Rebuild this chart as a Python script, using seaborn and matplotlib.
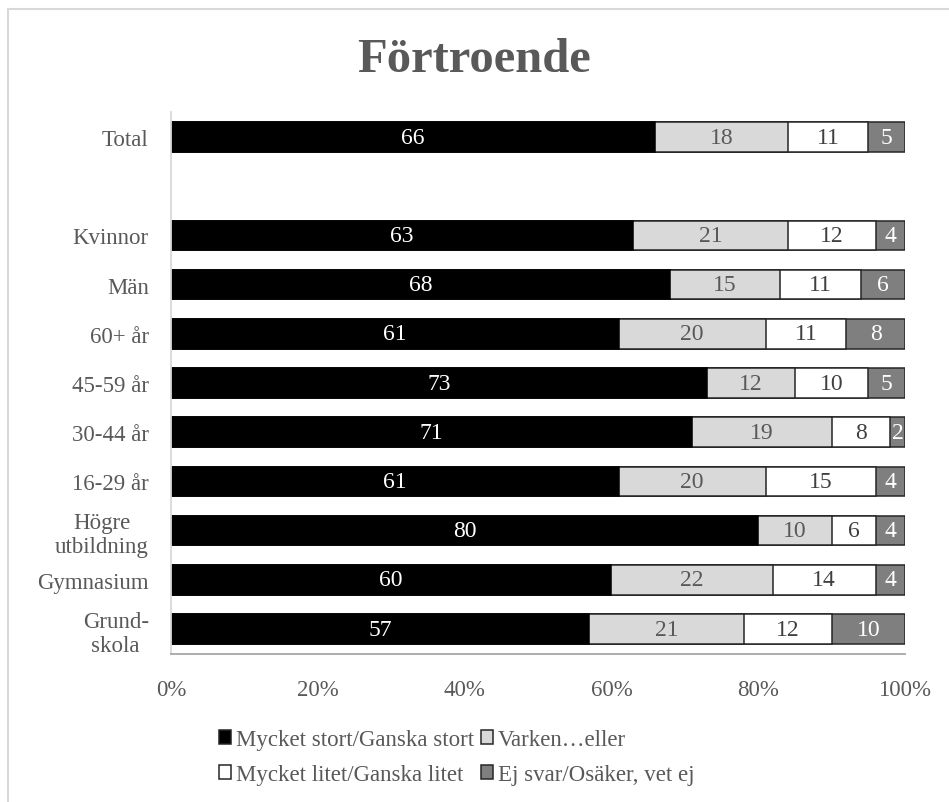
import matplotlib
matplotlib.use("Agg")
import matplotlib.pyplot as plt
from matplotlib.patches import Rectangle, Patch
import seaborn as sns
import pandas as pd
import numpy as np

sns.set_style("white")
plt.rcParams["font.family"] = ["Liberation Serif", "DejaVu Serif"]

# ---- data ----
categories = ["Total", "Kvinnor", "Män", "60+ år", "45-59 år", "30-44 år",
              "16-29 år", "Högre\nutbildning", "Gymnasium", "Grund-\nskola"]
order = ["Total", " ", "Kvinnor", "Män", "60+ år", "45-59 år", "30-44 år",
         "16-29 år", "Högre\nutbildning", "Gymnasium", "Grund-\nskola"]
series_names = ["Mycket stort/Ganska stort", "Varken…eller",
                "Mycket litet/Ganska litet", "Ej svar/Osäker, vet ej"]
stort = [66, 63, 68, 61, 73, 71, 61, 80, 60, 57]
varken = [18, 21, 15, 20, 12, 19, 20, 10, 22, 21]
litet = [11, 12, 11, 11, 10, 8, 15, 6, 14, 12]
ejsvar = [5, 4, 6, 8, 5, 2, 4, 4, 4, 10]
xticks = [0, 20, 40, 60, 80, 100]
xticklabels = ["0%", "20%", "40%", "60%", "80%", "100%"]

colors = ["#000000", "#D9D9D9", "#FFFFFF", "#7F7F7F"]
text_colors = ["#FFFFFF", "#595959", "#404040", "#FFFFFF"]
edge = "#262626"

series = [stort, varken, litet, ejsvar]
df = pd.DataFrame({"cat": categories})
cum = np.zeros(len(categories))
lefts = []
for name, vals in zip(series_names, series):
    lefts.append(cum.copy())
    cum = cum + np.array(vals)
    df[name + "_cum"] = cum.copy()

fig = plt.figure(figsize=(9.49, 8.03), dpi=100)
ax = fig.add_axes([171 / 949, 1 - 654.6 / 803, (905 - 171) / 949, (654.6 - 113.4) / 803])

# draw cumulative bars from widest to narrowest
for i in range(3, -1, -1):
    sns.barplot(data=df, x=series_names[i] + "_cum", y="cat", order=order,
                orient="h", color=colors[i], saturation=1, width=0.6,
                edgecolor=edge if i > 0 else "#000000", linewidth=1.1,
                errorbar=None, ax=ax)

# value labels
for i, vals in enumerate(series):
    for j, v in enumerate(vals):
        y = order.index(categories[j])
        ax.text(lefts[i][j] + v / 2, y, f"{v}", ha="center", va="center",
                fontsize=17, color=text_colors[i])

ax.set_xlim(0, 100)
ax.set_xticks(xticks)
ax.set_xticklabels(xticklabels)
ax.set_xlabel("")
ax.set_ylabel("")
ax.tick_params(axis="both", length=0, labelsize=16.5, colors="#595959")
ax.tick_params(axis="y", pad=16)
ax.tick_params(axis="x", pad=18)
for lab in ax.get_yticklabels():
    lab.set_multialignment("center")

for s in ["top", "right"]:
    ax.spines[s].set_visible(False)
ax.spines["left"].set_color("#D9D9D9")
ax.spines["left"].set_linewidth(1.3)
ax.spines["bottom"].set_color("#A6A6A6")
ax.spines["bottom"].set_linewidth(1.3)
ax.grid(False)

# title
fig.text(0.5, 1 - 60 / 803, "Förtroende", ha="center", va="center",
         fontsize=35, fontweight="bold", color="#595959")

# legend (row-wise order)
handles = [Patch(facecolor=c, edgecolor=edge, linewidth=1.1) for c in colors]
idx = [0, 2, 1, 3]
leg = fig.legend([handles[k] for k in idx], [series_names[k] for k in idx],
                 loc="center", bbox_to_anchor=(0.481, 1 - 758 / 803), ncol=2,
                 frameon=False, fontsize=16.5, handlelength=0.55, handleheight=0.55,
                 handletextpad=0.2, columnspacing=0.3, labelspacing=0.6,
                 borderpad=0)
for t in leg.get_texts():
    t.set_color("#595959")

# outer chart border
fig.patches.append(Rectangle((8 / 949, -0.1), 1.2, 1 - 10 / 803 + 0.1,
                             transform=fig.transFigure, fill=False,
                             edgecolor="#D9D9D9", linewidth=1.5))

fig.savefig("out.png", dpi=100)
